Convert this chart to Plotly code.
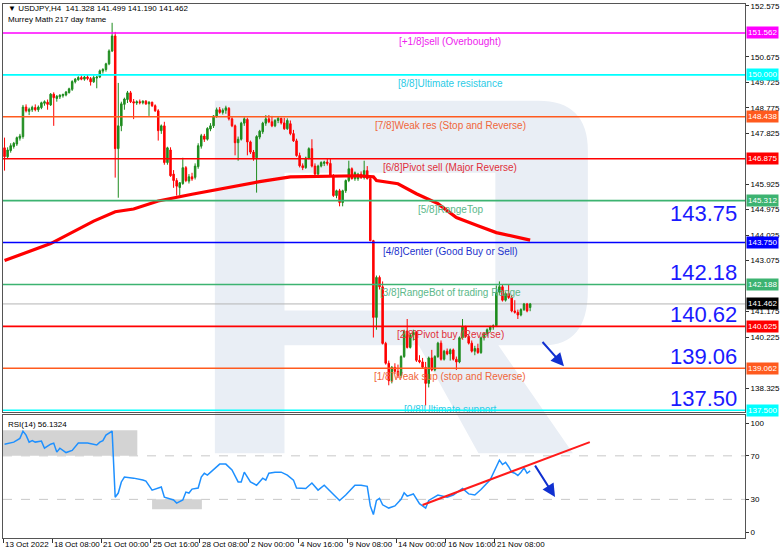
import plotly.graph_objects as go

# ---------------- data ----------------
tick_labels = ["13 Oct 2022", "18 Oct 08:00", "21 Oct 00:00", "25 Oct 16:00", "28 Oct 08:00",
               "2 Nov 00:00", "4 Nov 16:00", "9 Nov 08:00", "14 Nov 00:00", "16 Nov 16:00", "21 Nov 08:00"]
tick_bars = [0, 16, 32, 48, 64, 80, 96, 112, 128, 144, 160]

open_ = [147.28, 146.95, 147.18, 147.33, 147.42, 147.64, 147.70, 148.80, 148.64, 148.70,
         148.78, 148.70, 148.78, 148.94, 148.98, 148.88, 149.28, 149.12, 149.18, 149.22,
         149.25, 149.34, 149.46, 149.74, 149.82, 149.90, 149.84, 149.92, 149.86, 149.74,
         149.88, 149.92, 150.14, 150.20, 150.41, 150.89, 151.45,
         147.25, 148.10, 148.90, 149.08, 149.33, 149.00, 148.95, 149.00, 148.96, 149.02,
         148.92, 148.98, 148.85, 148.66, 147.92, 148.10,
         146.73, 147.20, 146.30, 146.06, 145.80, 145.95, 146.54, 146.04, 146.20, 146.18,
         146.58, 147.34, 147.72, 147.60, 147.98, 148.10, 148.45, 148.70, 148.60, 148.68,
         148.75, 148.36, 148.10, 147.47, 147.60, 148.20, 148.34, 147.50, 147.12, 146.91,
         147.68, 147.88, 148.20, 148.36, 148.25, 148.10, 148.30, 148.38, 148.21, 147.99,
         148.18, 147.81, 147.54, 146.99, 146.61, 146.54, 146.90, 147.25, 146.60, 146.30,
         146.60, 146.70, 146.75, 146.70, 146.24, 145.50, 145.68, 145.24, 145.68, 146.06,
         146.50, 146.13, 146.13, 146.30, 146.17, 146.43, 146.13,
         143.82, 140.96, 142.45, 142.10, 139.99, 139.25, 138.60, 139.10, 138.95, 138.80,
         139.50, 140.45, 139.84, 140.30, 140.40, 139.36, 139.30, 139.10, 138.50, 139.45,
         139.00, 139.50, 140.00, 139.40, 139.70, 139.60, 139.75, 139.40, 139.30, 140.20,
         140.60, 140.25, 140.00, 139.70, 139.80, 139.65, 140.20, 140.35, 140.50, 140.60, 140.65,
         141.90, 142.10, 141.60, 141.85, 141.70, 141.20, 141.15, 141.05, 141.25, 141.46,
         141.328]
high = [147.66, 147.30, 147.45, 147.50, 147.70, 147.80, 148.88, 148.90, 148.78, 148.85,
        148.90, 148.86, 149.00, 149.05, 149.08, 149.32, 149.35, 149.25, 149.28, 149.30,
        149.40, 149.52, 149.80, 149.88, 149.95, 149.98, 149.96, 150.00, 149.92, 149.98,
        149.96, 150.20, 150.25, 150.45, 150.95, 151.94, 151.60,
        149.70, 149.00, 149.15, 149.40, 149.40, 149.10, 149.05, 149.08, 149.05, 149.06,
        149.02, 149.00, 148.90, 148.72, 148.15, 148.25,
        147.32, 147.30, 146.45, 146.15, 146.00, 146.91, 146.60, 146.30, 146.35, 146.70,
        147.45, 147.80, 147.80, 148.05, 148.20, 148.50, 148.78, 148.80, 148.75, 148.85,
        148.80, 148.42, 148.15, 147.70, 148.25, 148.42, 148.40, 147.55, 147.20, 147.75,
        147.95, 148.25, 148.50, 148.50, 148.47, 148.35, 148.45, 148.40, 148.40, 148.38,
        148.30, 147.95, 147.62, 147.10, 146.70, 146.95, 147.30, 147.60, 146.70, 146.65,
        146.78, 146.80, 146.88, 146.90, 146.30, 145.72, 145.75, 145.72, 146.10, 146.80,
        146.55, 146.40, 146.35, 146.40, 146.80, 146.60, 146.20,
        143.85, 142.52, 142.52, 142.30, 140.05, 139.35, 139.15, 139.25, 139.20, 139.55,
        140.50, 140.90, 140.35, 140.50, 140.45, 139.55, 139.45, 139.30, 139.50, 139.75,
        139.55, 140.05, 140.10, 139.75, 139.80, 139.80, 139.80, 139.50, 140.25, 140.90,
        140.65, 140.30, 140.10, 139.90, 139.98, 140.25, 140.40, 140.55, 140.65, 140.70, 142.15,
        142.30, 142.20, 141.90, 142.20, 141.80, 141.60, 141.25, 141.30, 141.50, 141.50,
        141.499]
low = [146.43, 146.90, 147.10, 147.25, 147.35, 147.55, 147.62, 148.60, 148.50, 148.62,
       148.64, 148.62, 148.72, 148.85, 148.70, 148.84, 148.10, 149.00, 149.10, 149.15,
       149.20, 149.30, 149.40, 149.68, 149.78, 149.80, 149.78, 149.80, 149.60, 149.70,
       149.50, 149.88, 150.05, 150.12, 150.36, 150.85, 146.17,
       145.42, 147.90, 148.70, 148.95, 148.95, 148.35, 148.88, 148.90, 148.90, 148.88,
       148.47, 148.80, 148.62, 147.55, 147.80, 146.65,
       146.65, 146.20, 145.79, 145.50, 145.50, 145.90, 146.00, 145.95, 146.05, 146.10,
       146.50, 147.25, 147.50, 147.55, 147.90, 148.02, 148.40, 148.55, 148.52, 148.55,
       148.30, 148.05, 147.00, 146.80, 147.55, 148.10, 147.00, 147.05, 146.80, 145.61,
       147.60, 147.80, 148.10, 148.20, 148.05, 148.05, 148.20, 148.15, 147.95, 147.95,
       147.75, 147.50, 146.95, 146.55, 146.45, 146.50, 146.85, 146.55, 146.25, 146.25,
       146.55, 146.60, 146.62, 146.20, 145.45, 145.40, 145.10, 145.10, 145.60, 146.00,
       146.10, 146.05, 146.05, 146.12, 146.10, 146.10, 143.80,
       140.21, 140.50, 142.00, 139.95, 139.20, 138.43, 138.50, 138.85, 138.70, 138.70,
       139.45, 139.80, 139.80, 140.10, 139.30, 139.25, 139.05, 137.68, 138.35, 138.95,
       138.95, 139.45, 139.35, 139.35, 139.55, 139.35, 139.35, 139.00, 139.25, 140.15,
       140.20, 139.95, 139.65, 139.55, 139.60, 139.60, 140.10, 140.25, 140.40, 140.50, 140.60,
       141.80, 141.55, 141.55, 141.65, 141.15, 141.10, 140.90, 141.00, 141.20, 141.15,
       141.190]
close = [146.95, 147.20, 147.36, 147.45, 147.66, 147.72, 148.80, 148.66, 148.72, 148.79,
         148.70, 148.80, 148.96, 149.00, 148.90, 149.28, 149.15, 149.20, 149.24, 149.27,
         149.36, 149.48, 149.75, 149.84, 149.90, 149.84, 149.92, 149.86, 149.74, 149.90,
         149.92, 150.15, 150.20, 150.41, 150.89, 151.45, 147.25,
         148.10, 148.92, 149.10, 149.33, 149.00, 148.95, 149.00, 148.96, 149.02, 148.92,
         148.98, 148.85, 148.66, 147.92, 148.10, 146.73,
         147.28, 146.24, 146.06, 145.85, 145.98, 146.54, 146.06, 146.20, 146.12, 146.60,
         147.36, 147.73, 147.60, 148.00, 148.10, 148.47, 148.70, 148.60, 148.68, 148.77,
         148.36, 148.10, 147.47, 147.60, 148.20, 148.36, 147.50, 147.12, 146.91, 147.70,
         147.90, 148.20, 148.36, 148.25, 148.10, 148.30, 148.38, 148.21, 147.99, 148.30,
         147.81, 147.54, 146.99, 146.61, 146.54, 146.90, 147.25, 146.60, 146.30, 146.60,
         146.73, 146.75, 146.70, 146.24, 145.50, 145.68, 145.24, 145.68, 146.06, 146.50,
         146.13, 146.35, 146.30, 146.17, 146.43, 146.13, 143.82,
         140.96, 142.45, 142.10, 139.99, 139.25, 138.60, 139.10, 138.95, 138.80, 139.50,
         140.45, 139.84, 140.30, 140.40, 139.36, 139.30, 139.10, 138.50, 139.45, 139.00,
         139.50, 140.00, 139.40, 139.70, 139.60, 139.75, 139.40, 139.30, 140.20, 140.60,
         140.25, 140.00, 139.70, 139.80, 139.65, 140.20, 140.35, 140.50, 140.60, 140.65, 141.90,
         142.10, 141.60, 141.85, 141.70, 141.20, 141.15, 141.05, 141.25, 141.46, 141.20,
         141.462]

ma_bars = [0, 15, 29, 36, 42, 50, 61, 72, 83, 93, 106, 115, 120, 121, 128, 134, 141, 147, 154, 160, 171]
ma_vals = [143.08, 143.71, 144.55, 144.90, 145.00, 145.30, 145.55, 145.79, 146.02, 146.20, 146.24,
           146.24, 146.20, 146.06, 145.94, 145.57, 145.20, 144.68, 144.38, 144.12, 143.84]

rsi_bars = [0, 3, 5, 6, 7, 8, 9, 10, 12, 13, 15, 16, 17, 18, 20, 22, 24, 27, 30, 31, 32, 33, 35,
            36, 37, 38, 39, 42, 45, 46, 48, 50, 51, 52, 53, 55, 56, 58, 59, 60, 61, 63, 64, 65, 66,
            68, 70, 72, 74, 76, 77, 78, 80, 82, 84, 85, 86, 88, 90, 92, 94, 95, 98, 100, 102, 104,
            107, 109, 111, 114, 116, 118, 119, 120, 121, 122, 123, 125, 127, 129, 130, 131, 133,
            135, 137, 138, 141, 144, 146, 148, 149, 151, 153, 155, 157, 158, 160, 161, 162, 163,
            164, 165, 166, 167, 168, 169, 170, 171]
rsi_vals = [80.7, 82.6, 86.0, 92.7, 89.0, 82.6, 84.0, 82.6, 83.5, 77.0, 80.7, 81.7, 73.4, 77.0,
            73.0, 75.0, 81.7, 81.7, 80.0, 82.6, 84.0, 89.0, 92.7,
            32.0, 35.8, 46.0, 50.5, 49.5, 47.7, 46.8, 38.5, 40.4, 41.3, 32.0, 31.0, 29.4, 26.6,
            29.4, 36.7, 35.8, 39.4, 40.4, 50.5, 54.0, 52.3, 57.0, 62.4, 62.4, 57.0, 46.0, 46.0,
            55.0, 46.0, 43.0, 49.5, 47.7, 54.0, 55.0, 55.0, 52.3, 47.7, 40.4, 40.0, 45.0, 38.5,
            43.0, 34.0, 29.0, 34.0, 43.0, 43.0, 42.0, 24.0, 16.0, 29.0, 31.0, 25.0, 22.0, 24.0,
            30.0, 36.0, 33.0, 35.0, 26.0, 22.0, 29.0, 34.0, 32.0, 34.0, 38.0, 40.0, 35.0, 34.0,
            39.0, 45.0, 48.0, 60.0, 66.0, 62.0, 64.0, 60.0, 55.0, 54.0, 52.0, 55.0, 59.0, 54.0,
            56.13]

level_vals = [151.562, 150.000, 148.438, 146.875, 145.312, 143.750, 142.188, 140.625, 139.062, 137.500]
level_names = ["[+1/8]sell (Overbought)", "[8/8]Ultimate resistance", "[7/8]Weak res (Stop and Reverse)",
               "[6/8]Pivot sell (Major Reverse)", "[5/8]RangeTop", "[4/8]Center (Good Buy or Sell)",
               "[3/8]RangeBot of trading Range", "[2/8]Pivot buy (Reverse)",
               "[1/8]Weak sup (stop and Reverse)", "[0/8]Ultimate support"]
level_colors = ["#ff00ff", "#00ffff", "#ff5a1e", "#ff0000", "#3cb371", "#0000ff", "#3cb371",
                "#ff0000", "#ff5a1e", "#00ffff"]
level_text_colors = ["#ee22ee", "#2ccbe6", "#f0663a", "#e0303a", "#5cb88a", "#2233cc", "#5cb88a",
                     "#e0303a", "#f0663a", "#2ccbe6"]
big_labels = ["143.75", "142.18", "140.62", "139.06", "137.50"]
big_vals = [143.750, 142.188, 140.625, 139.062, 137.500]
price_ticks = [152.575, 150.675, 149.725, 148.775, 147.825, 145.925, 144.975, 144.025, 143.075,
               141.175, 140.225, 138.325, 137.375]
last_price = 141.462

# ---------------- geometry helpers (layout only) ----------------
W, H = 782, 554
L, R, T, B = 2, 34, 3, 16
PW, PH = W - L - R, H - T - B


def px(x):
    return (x - L) / PW


def py(y):
    return (H - B - y) / PH


FONT = "Liberation Sans, Arial, DejaVu Sans, sans-serif"
bars = list(range(len(close)))

fig = go.Figure()

fig.add_trace(go.Candlestick(
    x=bars, open=open_, high=high, low=low, close=close,
    increasing=dict(line=dict(color="#1e8c1e", width=1), fillcolor="#1e8c1e"),
    decreasing=dict(line=dict(color="#ff0000", width=1), fillcolor="#ff0000"),
    whiskerwidth=0, xaxis="x", yaxis="y", showlegend=False, hoverinfo="skip"))

fig.add_trace(go.Scatter(x=ma_bars, y=ma_vals, mode="lines", line=dict(color="#ff0000", width=3.2),
                         xaxis="x", yaxis="y", showlegend=False, hoverinfo="skip"))

# bottom level label, clipped by the price panel like in the original
fig.add_trace(go.Scatter(x=[145], y=[137.66], mode="text", text=[level_names[-1]],
                         textposition="bottom center", cliponaxis=True,
                         textfont=dict(family=FONT, size=10, color=level_text_colors[-1]),
                         xaxis="x", yaxis="y", showlegend=False, hoverinfo="skip"))

fig.add_trace(go.Scatter(x=rsi_bars, y=rsi_vals, mode="lines", line=dict(color="#1e90ff", width=1.5),
                         xaxis="x2", yaxis="y2", showlegend=False, hoverinfo="skip"))

shapes = []
annotations = []

# watermark "R"
wm = "#e9eef5"
r_path = ("M {a},{b} L {c},{b} Q {d},{b} {d},{e} L {d},{f} Q {d},{g} {h},{g} "
          "L {i},{g} L {j},{k} L {l},{k} L {m},{g} L {n},{g} L {n},{k} L {a},{k} Z "
          "M {n},{o} L {p},{o} L {p},{q} L {n},{q} Z").format(
    a=px(215), b=py(100), c=px(540), d=px(590), e=py(150), f=py(290), g=py(345), h=px(545),
    i=px(500), j=px(575), k=py(453), l=px(480), m=px(420), n=px(285), o=py(172), p=px(497), q=py(310))
shapes.append(dict(type="path", path=r_path, xref="paper", yref="paper", fillcolor=wm,
                   line=dict(width=0), layer="below", fillrule="evenodd"))

# RSI zones
shapes.append(dict(type="rect", xref="x2", yref="y2", x0=-0.8, x1=43.2, y0=70, y1=93.6,
                   fillcolor="#d3d3d3", line=dict(width=0), layer="below"))
shapes.append(dict(type="rect", xref="x2", yref="y2", x0=48, x1=64.2, y0=21, y1=30,
                   fillcolor="#d3d3d3", line=dict(width=0), layer="below"))
for lv in (30, 70):
    shapes.append(dict(type="line", xref="paper", yref="y2", x0=0, x1=1, y0=lv, y1=lv,
                       line=dict(color="#c8c8c8", width=1, dash="dash"), layer="below"))

# current price line
shapes.append(dict(type="line", xref="paper", yref="y", x0=0, x1=1, y0=last_price, y1=last_price,
                   line=dict(color="#b4b4b4", width=1), layer="below"))

# Murrey levels
for v, name, c, tc in zip(level_vals, level_names, level_colors, level_text_colors):
    shapes.append(dict(type="line", xref="paper", yref="y", x0=0, x1=1, y0=v, y1=v,
                       line=dict(color=c, width=1.6)))
    if v > 137.6:
        annotations.append(dict(x=145, y=v, xref="x", yref="y", text=name, showarrow=False,
                                xanchor="center", yanchor="top", yshift=-1,
                                font=dict(family=FONT, size=10, color=tc)))
    annotations.append(dict(x=1.002, y=v, xref="paper", yref="y", text=f"{v:.3f}", showarrow=False,
                            xanchor="left", yanchor="middle", bgcolor=c, borderpad=1,
                            font=dict(family=FONT, size=8, color="white")))

annotations.append(dict(x=1.002, y=last_price, xref="paper", yref="y", text=f"{last_price:.3f}",
                        showarrow=False, xanchor="left", yanchor="middle", bgcolor="#000000",
                        borderpad=1, font=dict(family=FONT, size=8, color="white")))

for t, v in zip(big_labels, big_vals):
    annotations.append(dict(x=px(742), y=v, xref="paper", yref="y", text=t, showarrow=False,
                            xanchor="right", yanchor="bottom", yshift=(15 if t == "143.75" else -3),
                            font=dict(family=FONT, size=22, color="#1a1aff")))

# RSI trend line and arrows
shapes.append(dict(type="line", xref="x2", yref="y2", x0=136, y0=24.8, x1=190.4, y1=82.6,
                   line=dict(color="#ff1a1a", width=2)))
annotations.append(dict(x=182.0, y=139.14, ax=174.6, ay=140.10, xref="x", yref="y", axref="x",
                        ayref="y", showarrow=True, arrowhead=2, arrowsize=1.3, arrowwidth=2,
                        arrowcolor="#1030d0", text=""))
annotations.append(dict(x=179.1, y=32.1, ax=172.3, ay=62.4, xref="x2", yref="y2", axref="x2",
                        ayref="y2", showarrow=True, arrowhead=2, arrowsize=1.3, arrowwidth=2,
                        arrowcolor="#1030d0", text=""))

# header texts
annotations.append(dict(x=px(5), y=py(8), xref="paper", yref="paper", xanchor="left", yanchor="middle",
                        text="▼ USDJPY,H4  141.328 141.499 141.190 141.462", showarrow=False,
                        font=dict(family=FONT, size=8, color="#000000")))
annotations.append(dict(x=px(5), y=py(19), xref="paper", yref="paper", xanchor="left", yanchor="middle",
                        text="Murrey Math 217 day frame", showarrow=False,
                        font=dict(family=FONT, size=8, color="#000000")))
annotations.append(dict(x=px(5), y=py(424), xref="paper", yref="paper", xanchor="left", yanchor="middle",
                        text="RSI(14) 56.1324", showarrow=False,
                        font=dict(family=FONT, size=8, color="#000000")))

# x tick labels (left aligned at tick)
for b, t in zip(tick_bars, tick_labels):
    annotations.append(dict(x=b - 0.5, y=py(545), xref="x2", yref="paper", text=t, showarrow=False,
                            xanchor="left", yanchor="middle", xshift=0,
                            font=dict(family=FONT, size=8, color="#000000")))

xr = [-0.5, 240.9]
fig.update_layout(
    width=W, height=H, margin=dict(l=L, r=R, t=T, b=B),
    paper_bgcolor="white", plot_bgcolor="white",
    xaxis=dict(domain=[0, 1], range=xr, anchor="y", showgrid=False, zeroline=False,
               showticklabels=False, ticks="", showline=True, mirror=True, linecolor="#555",
               rangeslider=dict(visible=False), fixedrange=True),
    yaxis=dict(domain=[py(412), 1], range=[137.425, 152.641], side="right", anchor="x",
               tickvals=price_ticks, ticktext=[f"{v:.3f}" for v in price_ticks],
               ticks="outside", ticklen=3, tickcolor="#333", showgrid=False, zeroline=False,
               showline=True, mirror=True, linecolor="#555",
               tickfont=dict(family=FONT, size=8, color="#000")),
    xaxis2=dict(domain=[0, 1], range=xr, anchor="y2", matches="x", showgrid=False, zeroline=False,
                tickvals=[b - 0.5 for b in tick_bars], ticktext=[""] * len(tick_bars),
                ticks="outside", ticklen=4, tickcolor="#333",
                showline=True, mirror=True, linecolor="#555"),
    yaxis2=dict(domain=[0, py(415)], range=[-5.5, 107.3], side="right", anchor="x2",
                tickvals=[0, 30, 70, 100], ticks="outside", ticklen=3, tickcolor="#333",
                showgrid=False, zeroline=False, showline=True, mirror=True, linecolor="#555",
                tickfont=dict(family=FONT, size=8, color="#000")),
    shapes=shapes, annotations=annotations, showlegend=False,
)

fig.write_html("out.html", config={"displayModeBar": False},
               post_script="document.body.style.margin='0';document.body.style.padding='0';")
